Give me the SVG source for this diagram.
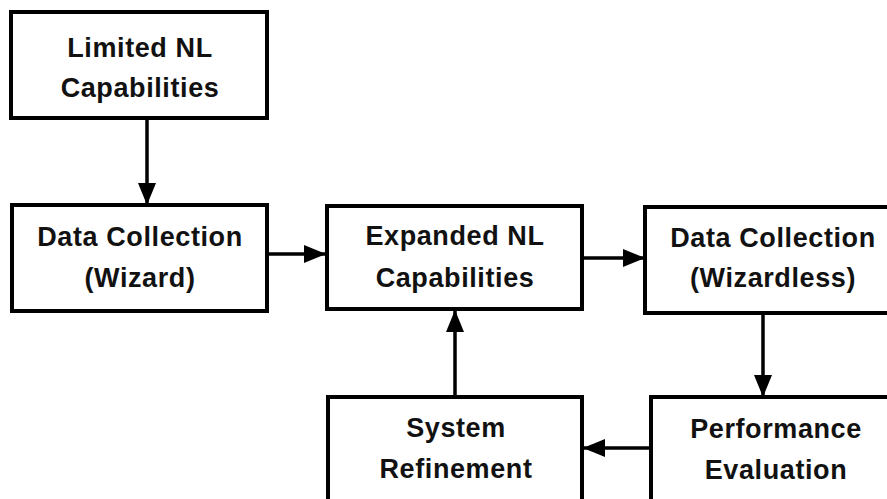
<svg xmlns="http://www.w3.org/2000/svg" width="887" height="499" viewBox="0 0 887 499">
<style>
.box{fill:#fff;stroke:#000;stroke-width:4}
.t{font-family:"Liberation Sans",Arial,sans-serif;font-weight:bold;font-size:27px;letter-spacing:0.6px;fill:#111;text-anchor:middle}
.c{stroke:#000;stroke-width:3.5;fill:none}
</style>
<defs>
<marker id="ah" viewBox="0 0 22 18" refX="22" refY="9" markerWidth="22" markerHeight="18" markerUnits="userSpaceOnUse" orient="auto">
<path d="M0,0 L22,9 L0,18 Z" fill="#000"/>
</marker>
</defs>
<rect width="887" height="499" fill="#fff"/>
<g id="connectors">
<line class="c" x1="147" y1="118" x2="147" y2="205" marker-end="url(#ah)"/>
<line class="c" x1="267" y1="254" x2="326" y2="254" marker-end="url(#ah)"/>
<line class="c" x1="582" y1="258" x2="645" y2="258" marker-end="url(#ah)"/>
<line class="c" x1="763" y1="313" x2="763" y2="397" marker-end="url(#ah)"/>
<line class="c" x1="651" y1="448" x2="583" y2="448" marker-end="url(#ah)"/>
<line class="c" x1="455" y1="397" x2="455" y2="310" marker-end="url(#ah)"/>
</g>
<g id="limited">
<rect class="box" x="11" y="12" width="256" height="106"/>
<text class="t" x="140" y="57">Limited NL</text>
<text class="t" x="140" y="97">Capabilities</text>
</g>
<g id="dc-wizard">
<rect class="box" x="12" y="205" width="255" height="106"/>
<text class="t" x="140" y="246">Data Collection</text>
<text class="t" x="140" y="287">(Wizard)</text>
</g>
<g id="expanded">
<rect class="box" x="327" y="206" width="255" height="103"/>
<text class="t" x="455" y="245">Expanded NL</text>
<text class="t" x="455" y="287">Capabilities</text>
</g>
<g id="dc-wizardless">
<rect class="box" x="645" y="207" width="250" height="106"/>
<text class="t" x="773" y="247">Data Collection</text>
<text class="t" x="773" y="287">(Wizardless)</text>
</g>
<g id="performance">
<rect class="box" x="651" y="397" width="250" height="120"/>
<text class="t" x="776" y="438">Performance</text>
<text class="t" x="776" y="479">Evaluation</text>
</g>
<g id="refinement">
<rect class="box" x="328" y="397" width="254" height="120"/>
<text class="t" x="456" y="437">System</text>
<text class="t" x="456" y="478">Refinement</text>
</g>
</svg>
